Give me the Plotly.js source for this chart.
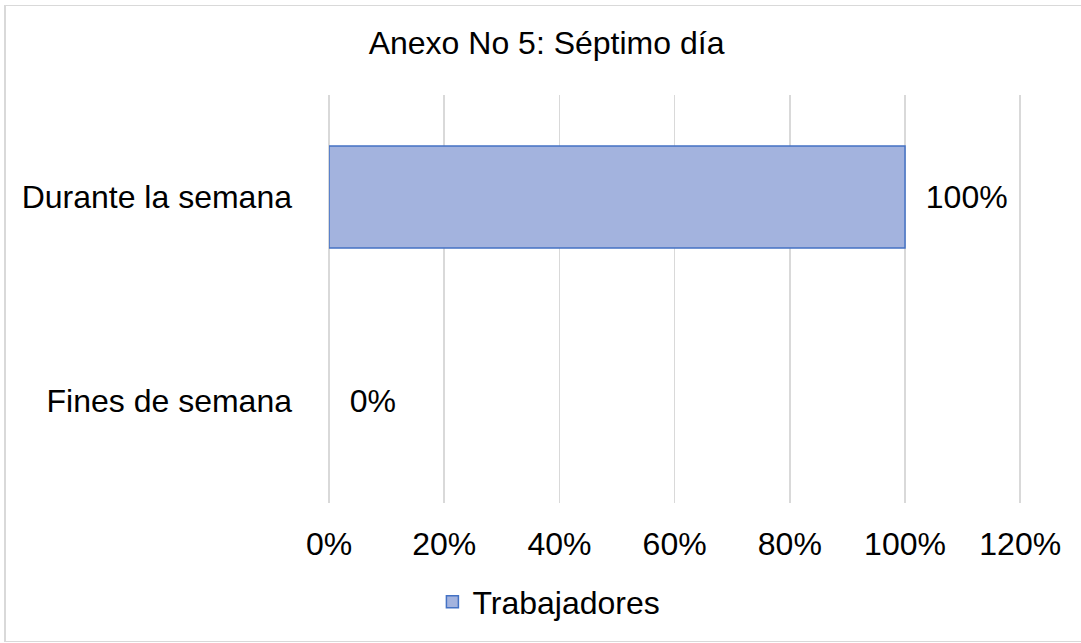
<!DOCTYPE html>
<html>
<head>
<meta charset="utf-8">
<script src="https://cdn.plot.ly/plotly-3.0.1.min.js"></script>
<style>
  body { margin: 0; background: #fff; }
  #wrap { position: relative; width: 1081px; height: 643px; overflow: hidden; }
  #chart { position: absolute; left: 0; top: 0; width: 1081px; height: 643px; }
  #frame {
    position: absolute; left: 4px; top: 5px; width: 1100px; height: 635px;
    border: 1px solid #d9d9d9; border-left-width: 2px; pointer-events: none;
  }
</style>
</head>
<body>
<div id="wrap">
  <div id="chart"></div>
  <div id="frame"></div>
</div>
<script>
const Plotly = window.Plotly;

// values (top to bottom)
const categories = ['Durante la semana', 'Fines de semana'];
const trabajadores = [1, 0];
const seriesName = 'Trabajadores';
const tickValues = [0, 0.2, 0.4, 0.6, 0.8, 1.0, 1.2];

const font = 'Liberation Sans, Arial, sans-serif';
const fs = 32;

const trace1 = {
    type: 'bar',
    orientation: 'h',
    name: seriesName,
    x: trabajadores,
    y: categories,
    width: 0.5,
    marker: {
        color: '#a3b3de',
        // no outline on the empty bar
        line: { color: '#4472c4', width: trabajadores.map(v => v > 0 ? 1.5 : 0) },
    },
    texttemplate: '\u00a0\u00a0%{x:.0%}',
    textposition: 'outside',
    cliponaxis: false,
    textfont: { family: font, size: fs, color: '#000' },
    hoverinfo: 'skip',
};

const layout = {
    width: 1081,
    height: 643,
    paper_bgcolor: 'rgba(0,0,0,0)',
    plot_bgcolor: 'rgba(0,0,0,0)',
    font: { family: font, size: fs, color: '#000' },
    margin: { l: 329, r: 55, t: 95, b: 140, pad: 0 },
    title: {
        text: 'Anexo No 5: Séptimo día',
        font: { family: font, size: fs, color: '#000' },
        xref: 'container',
        x: 0.5056,
        xanchor: 'center',
        yref: 'container',
        y: 0.933,
        yanchor: 'middle',
    },
    showlegend: true,
    legend: {
        orientation: 'h',
        xref: 'container',
        x: 0.4,
        xanchor: 'left',
        yref: 'container',
        y: 0.0638,
        yanchor: 'middle',
        font: { family: font, size: fs, color: '#000' },
    },
    xaxis: {
        range: [0, 1.21],
        tickvals: tickValues,
        tickformat: '.0%',
        showgrid: true,
        gridcolor: '#d9d9d9',
        gridwidth: 1.5,
        zeroline: true,
        zerolinecolor: '#d9d9d9',
        zerolinewidth: 1.5,
        showline: false,
        ticks: '',
        ticklabelstandoff: 19,
        tickfont: { family: font, size: fs, color: '#000' },
        fixedrange: true,
    },
    yaxis: {
        type: 'category',
        categoryorder: 'array',
        categoryarray: categories.slice().reverse(),
        showgrid: false,
        zeroline: false,
        showline: false,
        ticks: '',
        ticklabelstandoff: 36,
        tickfont: { family: font, size: fs, color: '#000' },
        fixedrange: true,
    },
    bargap: 0.5,
};

Plotly.newPlot('chart', [trace1], layout, { staticPlot: true, displayModeBar: false });
</script>
</body>
</html>
